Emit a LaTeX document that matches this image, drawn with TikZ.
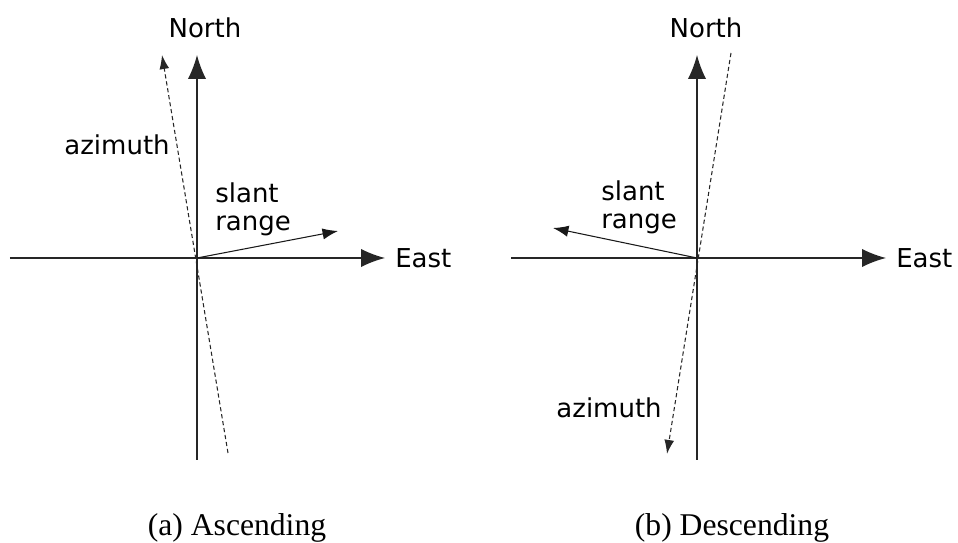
\documentclass[tikz,border=0pt]{standalone}
\usepackage{fontspec}
\setmainfont{Liberation Serif}
\newfontfamily\labelfont{DejaVu Sans}
\usepackage{tikz}
\usetikzlibrary{arrows.meta,positioning,calc}

\tikzset{
  axis/.style={line width=1pt,black!85,-{Latex[length=17pt,width=13pt]}},
  slant/.style={line width=0.75pt,black!90,-{Latex[length=11pt,width=8pt]}},
  azim/.style={line width=0.75pt,black!85,dash pattern=on 3pt off 2pt,-{Latex[length=10pt,width=7pt]}},
  lbl/.style={font=\labelfont\fontsize{18.5}{20}\selectfont,inner sep=0pt},
  caption/.style={font=\fontsize{22.5}{25}\selectfont,inner sep=0pt}
}

\begin{document}
\begin{tikzpicture}[scale=1.0]
  \useasboundingbox (-4.925,-7.125) rectangle (19.025,6.45);
  % (a) ascending
  \coordinate (o1) at (0,0);
  \coordinate (w1) at (-4.675,0);
  \coordinate (e1) at (4.7,0);
  \coordinate (s1) at (0,-5.05);
  \coordinate (n1) at (0,5.075);
  \coordinate (azt1) at (-0.875,5.075);   % azimuth head
  \coordinate (azb1) at (0.775,-4.875);   % azimuth tail
  \coordinate (sr1) at (3.525,0.675);
  \draw[axis] (w1) -- (e1);
  \draw[axis] (s1) -- (n1);
  \draw[azim] (azb1) -- (azt1);
  \draw[slant] (o1) -- (sr1);
  \node[lbl,above=0.425cm of n1,xshift=0.2cm] (north1) {North};
  \node[lbl,right=0.25cm of e1] (east1) {East};
  \node[lbl,anchor=base east] (az1) at (-0.675,2.575) {azimuth};
  \node[lbl,anchor=north west,align=left] (slr1) at (0.45,1.9) {slant\\range};
  \node[caption,anchor=base] (capa) at (1.0,-6.95) {(a) Ascending};

  % (b) descending
  \coordinate (o2) at (12.5,0);
  \coordinate (w2) at (7.85,0);
  \coordinate (e2) at (17.225,0);
  \coordinate (s2) at (12.5,-5.05);
  \coordinate (n2) at (12.5,5.075);
  \coordinate (azt2) at (13.35,5.125);    % azimuth tail
  \coordinate (azb2) at (11.75,-4.9);     % azimuth head
  \coordinate (sr2) at (8.9,0.75);
  \draw[axis] (w2) -- (e2);
  \draw[axis] (s2) -- (n2);
  \draw[azim] (azt2) -- (azb2);
  \draw[slant] (o2) -- (sr2);
  \node[lbl,above=0.425cm of n2,xshift=0.225cm] (north2) {North};
  \node[lbl,right=0.25cm of e2] (east2) {East};
  \node[lbl,anchor=base east] (az2) at (11.625,-4.0) {azimuth};
  \node[lbl,anchor=north west,align=left] (slr2) at (10.1,1.95) {slant\\range};
  \node[caption,anchor=base] (capb) at (13.375,-6.95) {(b) Descending};
\end{tikzpicture}
\end{document}
